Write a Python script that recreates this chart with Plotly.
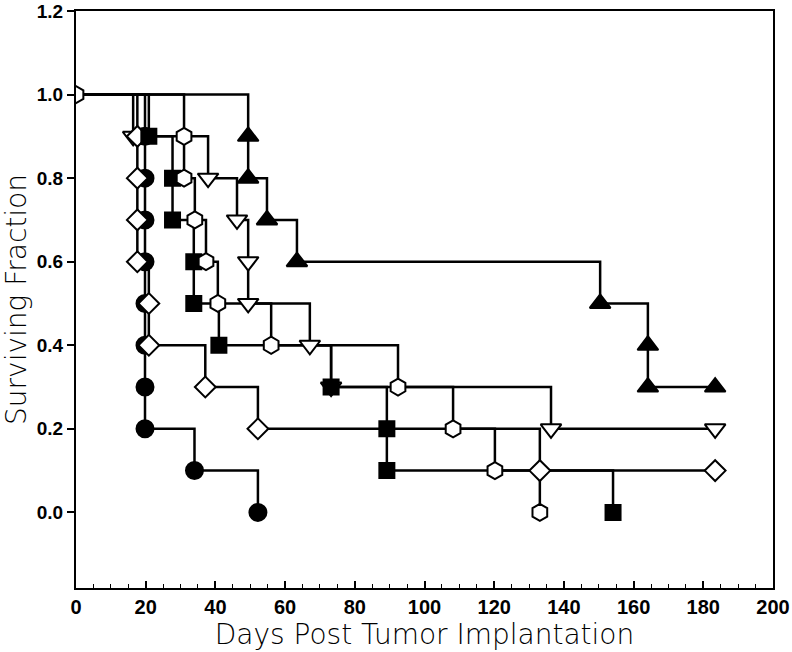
import plotly.graph_objects as go

# ---- data (days, surviving fraction) ----
circle_days = [0, 19.8, 19.8, 19.8, 19.8, 19.8, 19.8, 19.8, 19.8, 34, 52.2]
circle_surv = [1.0, 0.9, 0.8, 0.7, 0.6, 0.5, 0.4, 0.3, 0.2, 0.1, 0.0]

tridown_days = [0, 16.4, 37.9, 46.2, 49.4, 49.4, 67.1, 73.2, 136.3, 183.4]
tridown_surv = [1.0, 0.9, 0.8, 0.7, 0.6, 0.5, 0.4, 0.3, 0.2, 0.2]

diamond_days = [0, 17.6, 17.6, 17.6, 17.6, 20.9, 20.9, 37.1, 52.2, 133.1, 183.4]
diamond_surv = [1.0, 0.9, 0.8, 0.7, 0.6, 0.5, 0.4, 0.3, 0.2, 0.1, 0.1]

square_days = [0, 20.9, 27.7, 27.7, 33.8, 33.8, 41.0, 73.2, 89.2, 89.2, 154.1]
square_surv = [1.0, 0.9, 0.8, 0.7, 0.6, 0.5, 0.4, 0.3, 0.2, 0.1, 0.0]

triup_days = [0, 49.4, 49.4, 54.8, 63.4, 150.4, 164.1, 164.1, 183.4]
triup_surv = [1.0, 0.9, 0.8, 0.7, 0.6, 0.5, 0.4, 0.3, 0.3]

hexagon_days = [0, 31.0, 31.0, 34.1, 37.3, 40.7, 56.0, 92.4, 108.2, 120.2, 133.1]
hexagon_surv = [1.0, 0.9, 0.8, 0.7, 0.6, 0.5, 0.4, 0.3, 0.2, 0.1, 0.0]

x_ticks = [0, 20, 40, 60, 80, 100, 120, 140, 160, 180, 200]
y_ticks = [0.0, 0.2, 0.4, 0.6, 0.8, 1.0, 1.2]

# (days, surv, symbol, fill, size, show marker at day 0)
series = [
    (circle_days, circle_surv, "circle", "black", 17, False),
    (tridown_days, tridown_surv, "triangle-down", "white", 18, False),
    (diamond_days, diamond_surv, "diamond", "white", 16, False),
    (square_days, square_surv, "square", "black", 15, False),
    (triup_days, triup_surv, "triangle-up", "black", 18, False),
    (hexagon_days, hexagon_surv, "hexagon", "white", 17, True),
]

fig = go.Figure()
# step lines first
for xs, ys, sym, fill, sz, first in series:
    fig.add_trace(go.Scatter(x=xs, y=ys, mode="lines", line=dict(color="black", width=2.5, shape="hv"),
                             showlegend=False, hoverinfo="skip"))
# markers on top
for xs, ys, sym, fill, sz, first in series:
    start = 0 if first else 1
    fig.add_trace(go.Scatter(x=xs[start:], y=ys[start:], mode="markers",
                             marker=dict(symbol=sym, size=sz, color=fill, line=dict(color="black", width=2)),
                             showlegend=False))

x_tick_font = dict(family="Liberation Sans", size=20, color="black", weight="bold")
y_tick_font = dict(family="Liberation Sans", size=19, color="black", weight="bold")
title_font = dict(family="DejaVu Sans", size=28, color="black", weight=300)

fig.update_layout(
    width=792, height=652,
    margin=dict(l=76, r=19, t=11, b=64),
    paper_bgcolor="white", plot_bgcolor="white",
    xaxis=dict(range=[0, 200], tickvals=x_ticks, ticks="inside", ticklen=7, tickwidth=1.5,
               tickcolor="black", showline=True, linecolor="black", linewidth=2, mirror=True,
               showgrid=False, zeroline=False, tickfont=x_tick_font, automargin=False,
               ticklabeloverflow="allow",
               minor=dict(dtick=5, ticks="inside", ticklen=4, tickwidth=1.2, tickcolor="black"),
               title=dict(text="Days Post Tumor Implantation", font=title_font, standoff=4)),
    yaxis=dict(range=[-0.181, 1.2], tickvals=y_ticks, tickformat=".1f", ticks="outside", ticklen=7,
               tickwidth=1.5, tickcolor="black", showline=True, linecolor="black", linewidth=2,
               mirror=True, showgrid=False, zeroline=False, tickfont=y_tick_font, automargin=False,
               ticklabeloverflow="allow",
               title=dict(text="Surviving Fraction", font=title_font, standoff=4)),
)

fig.write_html("out.html", config={"displayModeBar": False},
               post_script="document.body.style.margin='0';document.body.style.overflow='hidden';")
